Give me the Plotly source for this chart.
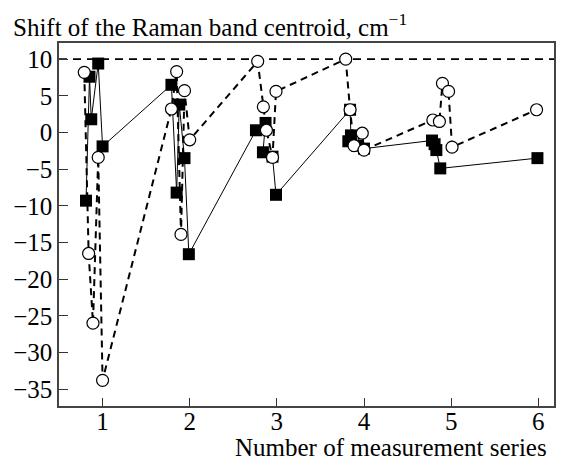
import plotly.graph_objects as go

# Filled squares (solid line)
sq_x = [0.81, 0.85, 0.87, 0.95, 1.00,
        1.79, 1.85, 1.88, 1.94, 1.99,
        2.76, 2.87, 2.84, 2.95, 2.99,
        3.84, 3.85, 3.82, 3.92, 4.00,
        4.78, 4.81, 4.83, 4.875,
        5.99]
sq_y = [-9.3, 7.6, 1.8, 9.4, -1.9,
        6.5, -8.2, 3.8, -3.5, -16.6,
        0.3, 1.3, -2.7, -3.3, -8.5,
        3.1, -0.4, -1.2, -1.8, -2.2,
        -1.1, -1.6, -2.4, -4.9,
        -3.5]

# Open circles (dashed line)
ci_x = [0.79, 0.84, 0.89, 0.95, 1.00,
        1.79, 1.85, 1.90, 1.94, 2.00,
        2.78, 2.845, 2.88, 2.95, 2.99,
        3.79, 3.84, 3.885, 3.98, 4.00,
        4.79, 4.865, 4.90, 4.97, 5.01,
        5.98]
ci_y = [8.2, -16.5, -26.0, -3.4, -33.8,
        3.2, 8.3, -13.9, 5.7, -1.0,
        9.7, 3.5, 0.3, -3.4, 5.6,
        10.0, 3.1, -1.8, -0.1, -2.4,
        1.7, 1.5, 6.7, 5.6, -2.0,
        3.1]

ref_level = 10
x_ticks = [1, 2, 3, 4, 5, 6]
y_ticks = [10, 5, 0, -5, -10, -15, -20, -25, -30, -35]

FONT = "Liberation Serif"

fig = go.Figure()
fig.add_trace(go.Scatter(
    x=sq_x, y=sq_y, mode="lines+markers",
    line=dict(color="black", width=1),
    marker=dict(symbol="square", size=12, color="black"),
    showlegend=False))
fig.add_trace(go.Scatter(
    x=ci_x, y=ci_y, mode="lines+markers",
    line=dict(color="black", width=2, dash="7px,5px"),
    marker=dict(symbol="circle", size=12, color="white",
                line=dict(color="black", width=1.2)),
    showlegend=False))

fig.add_shape(type="line", xref="paper", yref="y", x0=0, x1=1,
              y0=ref_level, y1=ref_level, layer="below",
              line=dict(color="black", width=1.8, dash="8px,6px"))

fig.update_layout(
    width=563, height=463,
    margin=dict(l=59, r=7, t=43, b=57),
    paper_bgcolor="white", plot_bgcolor="white",
    font=dict(family=FONT, size=25, color="black"),
    xaxis=dict(range=[0.5, 6.18], tickvals=x_ticks, ticks="inside",
               ticklen=8, tickwidth=1.2, tickcolor="#333",
               ticklabelstandoff=-8,
               showgrid=False, zeroline=False, showline=True,
               linecolor="#444", linewidth=1.5, mirror=True,
               tickfont=dict(family=FONT, size=25, color="black")),
    yaxis=dict(range=[-37.3, 12.2], tickvals=y_ticks, ticks="inside",
               ticklen=9, tickwidth=1.2, tickcolor="#333",
               showgrid=False, zeroline=False, showline=True,
               linecolor="#444", linewidth=1.5, mirror=True,
               tickfont=dict(family=FONT, size=25, color="black")),
    annotations=[
        dict(text="Shift of the Raman band centroid, cm<sup>−1</sup>",
             xref="paper", yref="paper", x=-0.097, y=1.05,
             xanchor="left", yanchor="middle", showarrow=False,
             font=dict(family=FONT, size=25, color="black")),
        dict(text="Number of measurement series",
             xref="paper", yref="paper", x=0.99, y=-0.115,
             xanchor="right", yanchor="middle", showarrow=False,
             font=dict(family=FONT, size=25, color="black")),
    ],
)

fig.write_html("out.html")
